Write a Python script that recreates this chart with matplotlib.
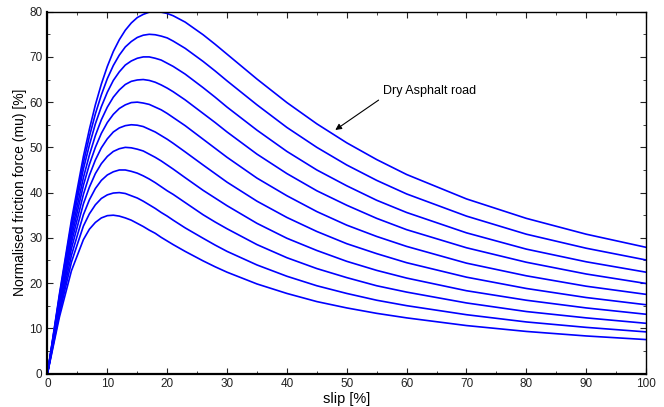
import matplotlib
matplotlib.use("Agg")
import matplotlib.pyplot as plt
from matplotlib.ticker import MultipleLocator

slip = [0, 2, 4, 6, 7, 8, 9, 10, 11, 12, 13, 14, 15, 16, 17, 18, 19, 20, 21, 23, 26, 28, 30,
        35, 40, 45, 50, 55, 60, 70, 80, 90, 100]

# normalised friction force [%], one list per road curve (lowest peak first)
mu_35 = [0, 12.5, 22.7, 29.6, 31.9, 33.4, 34.4, 34.9, 35.0, 34.8, 34.4, 33.9, 33.2, 32.5, 31.7, 31.0, 30.1, 29.3, 28.5, 27.0, 24.9, 23.6, 22.4,
         19.8, 17.7, 15.9, 14.5, 13.3, 12.3, 10.6, 9.3, 8.3, 7.5]
mu_40 = [0, 13.3, 24.6, 32.6, 35.3, 37.3, 38.7, 39.5, 39.9, 40.0, 39.8, 39.3, 38.8, 38.1, 37.3, 36.5, 35.6, 34.8, 33.9, 32.2, 29.9, 28.4, 27.0,
         24.0, 21.5, 19.4, 17.7, 16.2, 15.0, 13.0, 11.4, 10.2, 9.2]
mu_45 = [0, 14.0, 26.1, 35.1, 38.4, 40.9, 42.7, 43.9, 44.6, 45.0, 45.0, 44.7, 44.3, 43.7, 43.0, 42.2, 41.3, 40.4, 39.6, 37.8, 35.1, 33.5, 32.0,
         28.5, 25.6, 23.2, 21.2, 19.4, 18.0, 15.6, 13.7, 12.3, 11.1]
mu_50 = [0, 14.7, 27.6, 37.5, 41.2, 44.2, 46.4, 48.0, 49.1, 49.7, 50.0, 49.9, 49.6, 49.2, 48.5, 47.8, 47.0, 46.1, 45.2, 43.3, 40.5, 38.8, 37.1,
         33.2, 29.9, 27.2, 24.8, 22.8, 21.1, 18.3, 16.2, 14.5, 13.1]
mu_55 = [0, 15.3, 28.9, 39.6, 43.8, 47.2, 49.9, 51.9, 53.4, 54.3, 54.8, 55.0, 54.9, 54.6, 54.0, 53.4, 52.6, 51.8, 50.9, 49.0, 46.1, 44.2, 42.3,
         38.1, 34.5, 31.4, 28.7, 26.5, 24.5, 21.3, 18.8, 16.8, 15.2]
mu_60 = [0, 15.8, 30.0, 41.6, 46.2, 50.0, 53.1, 55.5, 57.3, 58.6, 59.4, 59.9, 60.0, 59.8, 59.5, 58.9, 58.3, 57.5, 56.6, 54.8, 51.8, 49.8, 47.8,
         43.2, 39.3, 35.8, 32.8, 30.3, 28.1, 24.4, 21.6, 19.3, 17.5]
mu_65 = [0, 16.3, 31.1, 43.3, 48.3, 52.6, 56.1, 58.9, 61.1, 62.7, 63.9, 64.6, 64.9, 65.0, 64.8, 64.4, 63.8, 63.1, 62.3, 60.5, 57.5, 55.5, 53.4,
         48.5, 44.2, 40.4, 37.2, 34.3, 31.8, 27.8, 24.6, 22.0, 19.9]
mu_70 = [0, 16.8, 32.2, 45.2, 50.5, 55.2, 59.0, 62.2, 64.8, 66.7, 68.2, 69.1, 69.7, 70.0, 70.0, 69.7, 69.3, 68.6, 67.9, 66.2, 63.2, 61.1, 58.9,
         53.8, 49.1, 45.0, 41.5, 38.3, 35.6, 31.1, 27.5, 24.7, 22.4]
mu_75 = [0, 17.2, 33.1, 46.6, 52.4, 57.4, 61.6, 65.2, 68.1, 70.4, 72.2, 73.4, 74.3, 74.8, 75.0, 74.9, 74.6, 74.2, 73.5, 71.9, 69.0, 66.9, 64.7,
         59.4, 54.4, 50.0, 46.1, 42.7, 39.7, 34.8, 30.8, 27.7, 25.1]
mu_80 = [0, 17.6, 33.9, 48.0, 54.0, 59.4, 64.0, 67.9, 71.2, 73.8, 75.9, 77.5, 78.7, 79.4, 79.9, 80.0, 79.9, 79.6, 79.1, 77.7, 74.9, 72.8, 70.6,
         65.1, 59.9, 55.2, 51.0, 47.3, 44.0, 38.6, 34.3, 30.8, 27.9]

curves = [mu_35, mu_40, mu_45, mu_50, mu_55, mu_60, mu_65, mu_70, mu_75, mu_80]

plt.rcParams['font.family'] = ['Liberation Sans', 'DejaVu Sans']

fig = plt.figure(figsize=(6.64, 4.07), dpi=100)
ax = fig.add_axes([0.0715, 0.0823, 0.9015, 0.889])

for mu in curves:
    ax.plot(slip, mu, color="blue", linewidth=1.2, solid_joinstyle="round")

ax.set_xlim(0, 100)
ax.set_ylim(0, 80)
ax.xaxis.set_major_locator(MultipleLocator(10))
ax.xaxis.set_minor_locator(MultipleLocator(5))
ax.yaxis.set_major_locator(MultipleLocator(10))
ax.yaxis.set_minor_locator(MultipleLocator(5))
ax.tick_params(which="both", direction="in", top=True, right=True, labelsize=8.5, colors="#222222")
ax.tick_params(which="major", length=4)
ax.tick_params(which="minor", length=2.5)
for side in ["left", "bottom", "right", "top"]:
    ax.spines[side].set_linewidth(1.0)
ax.spines["left"].set_linewidth(1.6)
ax.spines["bottom"].set_linewidth(1.6)

ax.set_xlabel("slip [%]", fontsize=10.5, labelpad=1)
ax.set_ylabel("Normalised friction force (mu) [%]", fontsize=10, labelpad=2)

ax.annotate("", xy=(47.7, 53.5), xytext=(55.7, 60.8),
            arrowprops=dict(arrowstyle="-|>", color="black", lw=0.8, mutation_scale=9))
ax.text(56.0, 62.4, "Dry Asphalt road", fontsize=9, ha="left", va="center")

fig.savefig("out.png", dpi=100)
